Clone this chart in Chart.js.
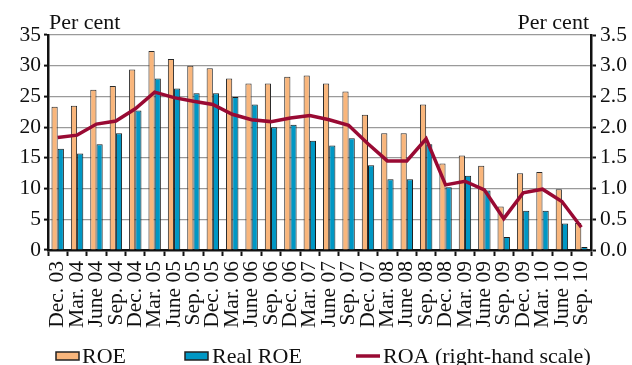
<!DOCTYPE html>
<html>
<head>
<meta charset="utf-8">
<script src="https://cdn.jsdelivr.net/npm/chart.js@4.4.1/dist/chart.umd.min.js"></script>
<style>
html,body{margin:0;padding:0;background:#fff;}
#wrap{width:632px;height:365px;position:relative;}
</style>
</head>
<body>
<div id="wrap"><canvas id="c" width="632" height="365"></canvas></div>
<script>
const categories = ["Dec. 03","Mar. 04","June 04","Sep. 04","Dec. 04","Mar. 05","June 05","Sep. 05","Dec. 05","Mar. 06","June 06","Sep. 06","Dec. 06","Mar. 07","June 07","Sep. 07","Dec. 07","Mar. 08","June 08","Sep. 08","Dec. 08","Mar. 09","June 09","Sep. 09","Dec. 09","Mar. 10","June 10","Sep. 10"];
const roe = [23.3,23.5,26.1,26.7,29.4,32.4,31.1,30.0,29.6,27.9,27.1,27.1,28.2,28.4,27.1,25.8,22.0,19.0,19.0,23.7,14.1,15.4,13.7,7.1,12.5,12.7,9.9,4.4];
const realRoe = [16.5,15.7,17.2,19.0,22.7,27.9,26.3,25.5,25.5,24.9,23.7,20.0,20.4,17.8,17.0,18.2,13.8,11.5,11.5,17.2,10.2,12.1,9.7,2.1,6.4,6.4,4.3,0.5];
const roa = [1.83,1.87,2.05,2.10,2.30,2.57,2.48,2.42,2.37,2.21,2.12,2.09,2.15,2.19,2.12,2.03,1.73,1.45,1.45,1.81,1.06,1.12,0.98,0.51,0.93,0.99,0.79,0.37];
const leftTicks = [0,5,10,15,20,25,30,35];
const rightTicks = [0,0.5,1.0,1.5,2.0,2.5,3.0,3.5];

const FONT = 'Liberation Serif';
const C_ROE = '#F9B67C';
const C_REAL = '#0097C4';
const C_ROA = '#990A33';

Chart.defaults.font.family = FONT;
Chart.defaults.color = '#111';

const overlay = {
  id: 'overlay',
  afterDraw(chart) {
    const ctx = chart.ctx;
    const ca = chart.chartArea;
    ctx.save();
    ctx.fillStyle = '#111';
    ctx.font = '22px ' + FONT;
    ctx.textBaseline = 'alphabetic';
    ctx.textAlign = 'left';
    ctx.fillText('Per cent', ca.left + 1, 29);
    ctx.textAlign = 'right';
    ctx.fillText('Per cent', ca.right - 2, 29);
    // legend
    ctx.font = '22px ' + FONT;
    ctx.textAlign = 'left';
    const ly = 356;
    const items = [
      {type:'box', color:C_ROE, x:56, label:chart.data.datasets[0].label, tx:82},
      {type:'box', color:C_REAL, x:185, label:chart.data.datasets[1].label, tx:212},
      {type:'line', color:C_ROA, x:356, label:chart.data.datasets[2].label, tx:383}
    ];
    items.forEach(it => {
      if (it.type === 'box') {
        ctx.fillStyle = it.color;
        ctx.fillRect(it.x, ly - 4, 23, 8);
        ctx.strokeStyle = '#222';
        ctx.lineWidth = 1.5;
        ctx.strokeRect(it.x, ly - 4, 23, 8);
      } else {
        ctx.strokeStyle = it.color;
        ctx.lineWidth = 3.5;
        ctx.beginPath();
        ctx.moveTo(it.x, ly);
        ctx.lineTo(it.x + 24, ly);
        ctx.stroke();
      }
      ctx.fillStyle = '#111';
      ctx.fillText(it.label, it.tx, 363);
    });
    ctx.restore();
  }
};

new Chart(document.getElementById('c'), {
  type: 'bar',
  data: {
    labels: categories,
    datasets: [
      {label:'ROE', data: roe, backgroundColor: C_ROE, borderColor:'#2a2a2a', borderWidth:1, borderSkipped:'bottom', inflateAmount:0, yAxisID:'y', order:2, categoryPercentage:0.64, barPercentage:1.0},
      {label:'Real ROE', data: realRoe, backgroundColor: C_REAL, borderColor:'#1a1a1a', borderWidth:1, borderSkipped:'bottom', inflateAmount:0, yAxisID:'y', order:2, categoryPercentage:0.64, barPercentage:1.0},
      {label:'ROA (right-hand scale)', type:'line', data: roa, borderColor: C_ROA, backgroundColor: C_ROA, borderWidth:3.5, pointRadius:0, tension:0, yAxisID:'y2', order:0}
    ]
  },
  options: {
    responsive: false,
    animation: false,
    layout: { padding: { top: 35, bottom: 35, left: 0, right: 0 } },
    plugins: { legend: { display: false }, tooltip: { enabled: false } },
    scales: {
      x: {
        grid: { display: true, offset: true, drawOnChartArea: false, drawTicks: true, tickLength: 6, tickColor: '#111', tickWidth: 2 },
        border: { display: true, color: '#111', width: 2.5 },
        ticks: { autoSkip: false, minRotation: 90, maxRotation: 90, padding: 5, font: { size: 21.5, family: FONT }, color: '#111' },
        afterFit(s) { s.height = 80; }
      },
      y: {
        position: 'left',
        min: 0, max: 35,
        afterBuildTicks(s) { s.ticks = leftTicks.map(v => ({value: v})); },
        grid: { display: true, drawOnChartArea: true, color: (c) => c.tick && c.tick.value === 0 ? 'rgba(0,0,0,0)' : '#9a9a9a', borderDash: [2,3], lineWidth: 1.2, drawTicks: true, tickLength: 4, tickColor: '#111', tickWidth: 2, tickBorderDash: [] },
        border: { display: true, color: '#111', width: 2.5 },
        ticks: { padding: 3, font: { size: 21.5, family: FONT }, color: '#111' },
        afterFit(s) { s.width = 48; }
      },
      y2: {
        position: 'right',
        min: 0, max: 3.5,
        afterBuildTicks(s) { s.ticks = rightTicks.map(v => ({value: v})); },
        grid: { display: true, drawOnChartArea: false, drawTicks: true, tickLength: 5, tickColor: '#111', tickWidth: 2 },
        border: { display: true, color: '#111', width: 2.5 },
        ticks: { padding: 4, font: { size: 21.5, family: FONT }, color: '#111', callback: (v) => Number(v).toFixed(1) },
        afterFit(s) { s.width = 41; }
      }
    }
  },
  plugins: [overlay]
});
</script>
</body>
</html>
